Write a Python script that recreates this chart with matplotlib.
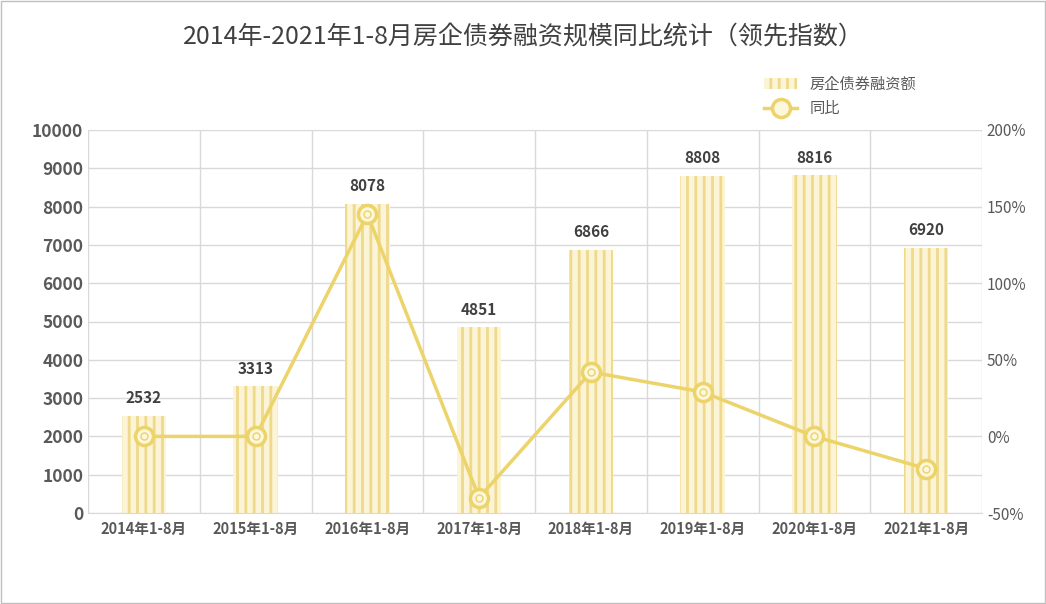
import matplotlib
matplotlib.use("Agg")
import matplotlib.pyplot as plt
from matplotlib.patches import Rectangle

CJK = ['Noto Sans CJK SC', 'Noto Sans CJK JP', 'Noto Sans CJK TC', 'Noto Sans CJK KR', 'DejaVu Sans']
plt.rcParams['font.family'] = 'sans-serif'
plt.rcParams['font.sans-serif'] = CJK
plt.rcParams['hatch.linewidth'] = 2.0

categories = ["2014年1-8月","2015年1-8月","2016年1-8月","2017年1-8月",
              "2018年1-8月","2019年1-8月","2020年1-8月","2021年1-8月"]
amounts = [2532, 3313, 8078, 4851, 6866, 8808, 8816, 6920]
yoy = [0, 0, 145, -40, 42, 29, 0, -21]

fig = plt.figure(figsize=(10.46, 6.04), dpi=100)
ax = fig.add_axes([88/1046, 1-513/604, (982-88)/1046, (513-130)/604])
x = range(len(categories))
ax.bar(x, amounts, width=0.4, color='#fbf4d6', edgecolor='#efd98a',
       hatch='||', linewidth=0, label='房企债券融资额')
for i, v in zip(x, amounts):
    ax.text(i, v + 250, str(v), ha='center', va='bottom', fontsize=11,
            fontweight='bold', color='#404040')
ax.set_ylim(0, 10000)
ax.set_yticks(range(0, 10001, 1000))
ax.set_xlim(-0.5, 7.5)
ax.set_xticks(list(x))
ax.set_xticklabels(categories, fontsize=10.5, fontweight='bold', color='#595959')
ax.tick_params(axis='y', labelsize=12.5, colors='#595959', length=0)
for lab in ax.get_yticklabels():
    lab.set_fontweight('bold')
ax.tick_params(axis='x', length=0, pad=6)
ax.grid(axis='y', color='#d9d9d9', linewidth=1)
for xv in [i + 0.5 for i in range(-1, 8)]:
    ax.axvline(xv, color='#d9d9d9', linewidth=1, zorder=0)
ax.set_axisbelow(True)
for s in ['top', 'right', 'left']:
    ax.spines[s].set_visible(False)
ax.spines['bottom'].set_color('#d9d9d9')

ax2 = ax.twinx()
ax2.plot(list(x), yoy, color='#ecd36a', linewidth=2.5, marker='o', markersize=13,
         markerfacecolor='#fdf7dc', markeredgecolor='#ecd36a', markeredgewidth=2.5,
         label='同比')
ax2.plot(list(x), yoy, linestyle='none', marker='o', markersize=5,
         markerfacecolor='none', markeredgecolor='#ecd36a', markeredgewidth=1)
ax2.set_ylim(-50, 200)
ax2.set_yticks(range(-50, 201, 50))
ax2.set_yticklabels([f"{v}%" for v in range(-50, 201, 50)], fontsize=11, color='#595959')
ax2.tick_params(axis='y', length=0)
for s in ax2.spines.values():
    s.set_visible(False)

fig.text(0.5, 1-37/604, "2014年-2021年1-8月房企债券融资规模同比统计（领先指数）",
         ha='center', va='center', fontsize=18, color='#404040')
h1, l1 = ax.get_legend_handles_labels()
h2, l2 = ax2.get_legend_handles_labels()
fig.legend(h1 + h2[:1], l1 + l2[:1], loc='upper left', bbox_to_anchor=(750/1046, 1-62/604),
           frameon=False, fontsize=11, labelcolor='#595959', handlelength=2.2)
fig.patches.append(Rectangle((0.001, 0.001), 0.998, 0.998, transform=fig.transFigure,
                             fill=False, edgecolor='#bfbfbf', linewidth=1))
fig.savefig("out.png", dpi=100)
